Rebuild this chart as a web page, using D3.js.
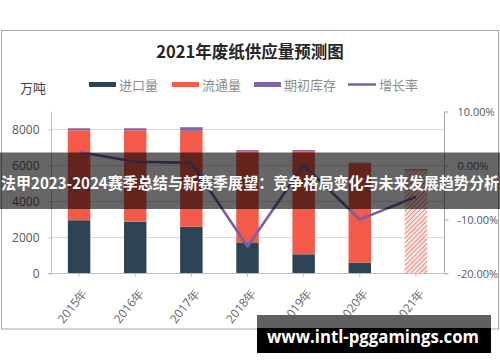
<!DOCTYPE html>
<html><head><meta charset="utf-8">
<script src="https://cdn.jsdelivr.net/npm/d3@7"></script>
<style>
html,body{margin:0;padding:0;background:#fff;}
svg{display:block;}
</style></head>
<body>
<svg id="chart" width="500" height="362"></svg>
<script>
// ---- data ----
const years = ["2015年","2016年","2017年","2018年","2019年","2020年","2021年"];
const importVol = [2930, 2850, 2570, 1700, 1040, 580, 0];       // 进口量
const circulation = [5000, 5080, 5330, 5035, 5700, 5500, 5760];  // 流通量
const inventory = [110, 110, 200, 90, 90, 50, 0];               // 期初库存
const growth = [0.024, 0.006, 0.004, -0.151, 0.000, -0.101, -0.059]; // 增长率
const leftTicks = [0, 2000, 4000, 6000, 8000];
const rightTicks = [-0.2, -0.1, 0, 0.1];
const seriesNames = ["进口量", "流通量", "期初库存", "增长率"];
const titleText = "2021年废纸供应量预测图";
const unitText = "万吨";
const bannerText = "法甲2023-2024赛季总结与新赛季展望：竞争格局变化与未来发展趋势分析";
const watermarkText = "www.intl-pggamings.com";

const colors = {imp:"#2e4354", circ:"#f45a4a", inv:"#8064a2", line:"#7b5fa6"};
const cjk = "'Noto Sans CJK SC', 'Noto Sans', sans-serif";
const num = "'Open Sans', 'Noto Sans', sans-serif";

const svg = d3.select("#chart");

// frame
svg.append("rect").attr("x",1.5).attr("y",30.5).attr("width",497).attr("height",298.5)
  .attr("fill","#fff").attr("stroke","#a6a6a6").attr("stroke-width",1);

// title
svg.append("text").attr("x",250).attr("y",58).attr("text-anchor","middle")
  .attr("font-family",cjk).attr("font-weight","bold").attr("font-size",16.5)
  .attr("fill","#262626").text(titleText);

// unit
svg.append("text").attr("x",20).attr("y",93).attr("font-family",cjk)
  .attr("font-size",13).attr("fill","#404040").text(unitText);

// legend
const legendX = [89, 172, 254, 348];
const legendColors = [colors.imp, colors.circ, colors.inv, colors.line];
seriesNames.forEach((n,i)=>{
  if(i<3){
    svg.append("rect").attr("x",legendX[i]).attr("y",82).attr("width",27).attr("height",5)
      .attr("fill",legendColors[i]);
  } else {
    svg.append("line").attr("x1",legendX[i]).attr("x2",legendX[i]+28).attr("y1",84.5).attr("y2",84.5)
      .attr("stroke",legendColors[i]).attr("stroke-width",2.5);
  }
  svg.append("text").attr("x",legendX[i]+(i<3?30:31)).attr("y",89.5).attr("font-family",cjk)
    .attr("font-size",13).attr("fill","#8c8c8c").text(n);
});

// scales
const x = d3.scaleBand().domain(years).range([51,444]).paddingInner(0.6).paddingOuter(0.3);
const yL = d3.scaleLinear().domain([0,9000]).range([273,111]);
const yR = d3.scaleLinear().domain([-0.2,0.1]).range([273,111]);

// gridlines
svg.append("g").selectAll("line").data(leftTicks.filter(d=>d>0)).join("line")
  .attr("x1",51).attr("x2",444).attr("y1",d=>yL(d)+0.5).attr("y2",d=>yL(d)+0.5)
  .attr("stroke","#d9d9d9").attr("stroke-width",1);

// left axis
const gL = svg.append("g").attr("transform","translate(51.5,0.5)")
  .call(d3.axisLeft(yL).tickValues(leftTicks).tickSize(3).tickPadding(9).tickFormat(d3.format("d")));
gL.select(".domain").attr("stroke","#bfbfbf").attr("d","M0,111V273");
gL.selectAll(".tick line").attr("stroke","#bfbfbf");
gL.selectAll("text").attr("font-family",num).attr("font-size",12).attr("fill","#595959");

// right axis
const fmtR = d => d3.format(".2%")(d).replace("−","-");
const gR = svg.append("g").attr("transform","translate(444.5,0.5)")
  .call(d3.axisRight(yR).tickValues(rightTicks).tickSize(4).tickPadding(9).tickFormat(fmtR));
gR.select(".domain").attr("stroke","#a6a6a6").attr("d","M0,111V273");
gR.selectAll(".tick line").attr("stroke","#a6a6a6");
gR.selectAll("text").attr("font-family",num).attr("font-size",11).attr("fill","#595959");

// hatch pattern
const defs = svg.append("defs");
const pat = defs.append("pattern").attr("id","hatch").attr("patternUnits","userSpaceOnUse")
  .attr("width",3.2).attr("height",3.2).attr("patternTransform","rotate(45)");
pat.append("rect").attr("width",3.2).attr("height",3.2).attr("fill","#fce6e3");
pat.append("line").attr("x1",0).attr("y1",0).attr("x2",0).attr("y2",3.2)
  .attr("stroke","#ee6a5e").attr("stroke-width",1.4);

// bars
const gB = svg.append("g");
years.forEach((yr,i)=>{
  const bx = x(yr), bw = x.bandwidth();
  const b0 = 0, b1 = importVol[i], b2 = b1 + circulation[i], b3 = b2 + inventory[i];
  const hatched = (i === years.length-1);
  if(importVol[i]>0)
    gB.append("rect").attr("x",bx).attr("width",bw).attr("y",yL(b1)).attr("height",yL(b0)-yL(b1)).attr("fill",colors.imp);
  gB.append("rect").attr("x",bx).attr("width",bw).attr("y",yL(b2)).attr("height",yL(b1)-yL(b2))
    .attr("fill",hatched?"url(#hatch)":colors.circ);
  if(hatched)
    gB.append("line").attr("x1",bx).attr("x2",bx+bw).attr("y1",yL(b2)+0.5).attr("y2",yL(b2)+0.5)
      .attr("stroke","#c9594f").attr("stroke-width",1);
  if(inventory[i]>0)
    gB.append("rect").attr("x",bx).attr("width",bw).attr("y",yL(b3)).attr("height",yL(b2)-yL(b3)).attr("fill",colors.inv);
});

// x axis
svg.append("line").attr("x1",48).attr("x2",447).attr("y1",273.5).attr("y2",273.5).attr("stroke","#bfbfbf");
svg.append("g").selectAll("line").data(years).join("line")
  .attr("x1",d=>x(d)+x.bandwidth()/2).attr("x2",d=>x(d)+x.bandwidth()/2)
  .attr("y1",273.5).attr("y2",277).attr("stroke","#bfbfbf");
svg.append("g").selectAll("text").data(years).join("text")
  .attr("transform",d=>`translate(${x(d)+x.bandwidth()/2+5.5},${290.5}) rotate(-52)`)
  .attr("text-anchor","end").attr("dy","0.35em")
  .attr("font-family",num).attr("font-size",12).attr("fill","#666666")
  .text(d=>d);

// line
const line = d3.line().x((d,i)=>x(years[i])+x.bandwidth()/2).y(d=>yR(d));
svg.append("path").datum(growth).attr("d",line).attr("fill","none")
  .attr("stroke",colors.line).attr("stroke-width",2.6).attr("stroke-linejoin","round");

// banner overlay
svg.append("rect").attr("x",0).attr("y",152.5).attr("width",500).attr("height",56.5)
  .attr("fill","rgba(0,0,0,0.6)");
svg.append("text").attr("x",1).attr("y",189).attr("textLength",498).attr("lengthAdjust","spacingAndGlyphs")
  .attr("font-family",cjk).attr("font-weight","bold").attr("font-size",15.5).attr("fill","#fff")
  .text(bannerText);

// watermark
svg.append("rect").attr("x",257).attr("y",315).attr("width",234).attr("height",13).attr("fill","#606060");
svg.append("rect").attr("x",257).attr("y",328).attr("width",234).attr("height",25).attr("fill","#000");
svg.append("text").attr("x",267).attr("y",342.5).attr("textLength",212).attr("lengthAdjust","spacingAndGlyphs")
  .attr("font-family","'Open Sans', 'DejaVu Sans', sans-serif").attr("font-weight","bold").attr("font-size",17)
  .attr("fill","#fff").text(watermarkText);
</script>
</body></html>
